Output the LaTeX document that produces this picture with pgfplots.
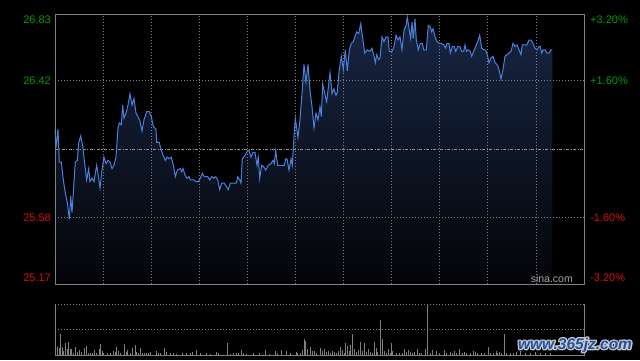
\documentclass[border=0pt]{standalone}
\usepackage{fontspec}
\setmainfont{Liberation Sans}
\usepackage{pgfplots}
\usepackage{pgfplotstable}
\pgfplotsset{compat=1.18}
\definecolor{upgreen}{RGB}{0,155,0}
\definecolor{downred}{RGB}{222,10,10}
\definecolor{gridgray}{RGB}{128,128,128}
\definecolor{linecol}{RGB}{74,128,220}
\definecolor{filltop}{RGB}{24,38,68}
\definecolor{fillbot}{RGB}{3,4,7}
\definecolor{wmblue}{RGB}{32,82,160}
\definecolor{wmhalo}{RGB}{200,200,206}

\pgfplotstableread{
x p
0 26.12
1 26.01
3 26.12
4.3 25.92
6.3 25.92
8.3 25.81
10.3 25.73
12.3 25.67
14.3 25.57
15.7 25.71
17 25.61
18.3 25.73
20.3 25.92
22.3 25.93
23.7 26.04
25.7 26.08
27.7 26.02
29.7 25.91
31.7 25.81
33.7 25.88
35 25.80
37 25.82
39 25.80
41.7 25.90
43 25.85
45 25.76
47 25.87
49 25.95
51 25.91
53 25.93
55 25.92
57 25.88
59 25.90
61 25.95
63 26.13
64.3 26.16
66.3 26.15
67.7 26.27
69 26.19
71 26.22
73 26.27
75 26.34
77 26.27
79 26.31
81 26.22
83 26.20
85 26.17
87 26.11
89 26.18
91.7 26.23
94.3 26.23
96.3 26.20
98.3 26.14
101 26.12
101.7 26.04
104.3 26.04
106.3 25.99
108.3 25.96
110.3 25.93
112.3 25.95
114.3 25.94
116.3 25.95
118.3 25.90
120.3 25.83
122.3 25.87
125.3 25.88
126.7 25.86
128 25.88
130 25.84
132 25.82
134 25.83
135.3 25.81
138.7 25.81
140.7 25.80
143.3 25.80
145.3 25.82
147.3 25.85
149.3 25.83
152.7 25.83
154.7 25.81
156.7 25.83
158.7 25.82
160.7 25.83
162.7 25.81
164.7 25.75
166.7 25.79
169.3 25.79
171.3 25.77
173.3 25.75
175.3 25.79
181.3 25.79
182.7 25.83
184.7 25.81
186 25.79
187.3 25.94
190 25.96
192.7 25.99
194 25.99
196 25.95
198 25.98
200 25.98
202 25.90
203.3 25.95
204.7 25.82
206.7 25.90
208.7 25.89
210.7 25.87
213.3 25.90
216 25.91
218 25.93
219.3 25.91
220.7 25.99
222.7 25.90
229.3 25.90
230.7 25.94
232 25.94
234 25.87
236 25.94
237.3 25.90
239 26.08
240.3 26.19
243 26.07
245 26.18
247 26.34
249 26.52
251 26.41
253 26.52
255 26.36
257 26.26
259 26.13
261 26.22
263 26.18
265 26.26
266.3 26.20
267.7 26.40
269.7 26.34
271.7 26.29
275 26.47
277 26.34
279 26.37
281 26.33
282.3 26.35
284.3 26.49
286.3 26.57
288.3 26.49
290.3 26.61
292.3 26.48
294.3 26.61
296.3 26.65
298.3 26.66
300.3 26.70
301.7 26.72
303.7 26.71
305.7 26.77
307.7 26.68
309.7 26.59
312.3 26.61
315 26.60
317 26.62
319 26.57
320.3 26.53
321.7 26.58
323.7 26.55
325 26.56
327 26.69
329 26.66
331 26.69
333 26.69
334.3 26.60
337 26.60
339 26.63
341 26.70
343 26.67
345 26.69
347 26.61
349 26.73
351 26.76
352.3 26.81
354.3 26.73
355.7 26.68
357 26.78
358.3 26.68
360 26.80
361.3 26.67
363.3 26.61
365.3 26.65
367.3 26.65
368.7 26.61
371.3 26.61
373.3 26.76
375.3 26.75
376.7 26.72
378 26.74
380 26.69
382 26.66
384 26.65
386 26.65
388.7 26.64
390.7 26.62
392 26.65
394 26.65
395.3 26.59
397.3 26.63
399.3 26.63
400.7 26.60
402.7 26.63
404.7 26.63
406.7 26.60
408.7 26.60
410 26.64
411.3 26.60
413.3 26.61
415.3 26.60
416.7 26.57
418.7 26.60
420.7 26.63
422.7 26.66
424.7 26.70
426.7 26.62
428.7 26.61
430.7 26.61
432.7 26.57
434 26.53
436 26.56
438 26.57
440 26.53
442 26.52
444 26.49
446 26.43
448 26.49
450 26.57
452 26.58
454 26.59
456 26.60
458 26.65
460 26.63
462 26.64
464 26.61
466 26.58
467.3 26.64
472 26.64
474 26.67
476 26.67
478 26.65
480 26.62
482 26.61
484 26.63
485.3 26.63
486.7 26.59
488 26.61
490 26.61
492 26.59
494 26.59
496 26.61
497.3 26.61
}\pricedata

\pgfplotstableread{
x v
0 57
2.3 25
4.3 20
5.3 63
7 25
8.3 13
10.3 37
12.3 17
13.3 40
15 17
16.3 17
18.3 7
20.3 23
22.3 10
24.3 15
26.3 9
29 20
31 27
33 7
35 5
37 7
39.3 15
41 5
44.3 17
45.3 33
47 11
48.3 7
52.3 5
55 5
58.3 11
60.3 9
61.3 23
63.3 11
65 5
69.3 33
71 9
72.3 15
75 5
77.7 21
80 30
81.7 10
83.3 7
85 20
87 7
89 5
91.7 5
93.7 5
95.7 9
101.7 11
103.7 7
105.7 5
109 20
111 9
115.7 5
118.3 5
121.7 3
127.7 5
131.7 5
135 7
137.7 9
141 15
145 5
151.7 5
155.7 3
161 9
163.7 7
172.3 37
175 3
178.3 5
181 5
183.7 7
186.3 15
188.3 5
191.7 3
198.3 5
204.3 7
210.3 15
214.3 3
220.3 11
222.3 5
226.3 15
231 11
235 5
241 9
242.3 7
245 5
247 15
249 47
250.3 43
252.3 17
255 23
257 11
259.7 11
261.7 5
265 20
267 11
269 17
271 9
273 11
275 7
277 13
279 9
281 7
283 11
285 25
287 15
289 7
290.3 35
292.3 27
294.3 13
295.7 29
297.3 63
299 17
301 9
303 15
305 39
307 13
309 35
311 9
313 19
315 9
317 7
319.3 39
321 20
322.3 9
325.3 105
327.3 47
329 13
331 7
333 17
335 7
336.3 35
337.7 13
341 7
344.3 5
347 5
349 17
351 9
353 15
355 9
357 7
359 9
362.3 19
364.3 5
366.3 7
370.3 17
372.3 152
375 7
377.7 15
381 11
384.3 7
389 15
391.7 7
395.7 9
397.7 7
399.7 11
401.7 7
404.3 19
407 5
409.7 9
411.7 7
415 5
418.3 11
420.3 9
422.3 7
426.3 7
429 5
433.7 23
435.7 5
438.3 7
441 11
442.3 5
444.3 9
446.3 7
449.3 63
451.7 7
455 5
458.3 7
461.7 9
465 11
470 7
475 5
480 9
485 7
490 5
495 7
}\voldata

\newcommand{\wm}{\fontsize{15.5}{15.5}\selectfont\bfseries\itshape www.365jz.com}

\begin{document}
\begin{tikzpicture}[x=1pt,y=1pt]
\path[use as bounding box] (0,0) rectangle (640,360);
\fill[black] (0,0) rectangle (640,360);

% ---------- price panel ----------
\begin{axis}[
  at={(55pt,76pt)}, anchor=south west,
  scale only axis, width=529pt, height=270pt,
  xmin=0, xmax=529, ymin=25.17, ymax=26.83,
  clip=false, axis on top,
  axis line style={gridgray, line width=0.8pt},
  xtick={48.09,96.18,144.27,192.36,240.45,288.55,336.64,384.73,432.82,480.91},
  ytick={25.58,26.42},
  xmajorticks=false, ymajorticks=false,
  xmajorgrids, ymajorgrids,
  major grid style={gridgray, line width=0.7pt, dash pattern=on 1pt off 2pt},
  font=\fontsize{11}{11}\selectfont,
]
\addplot[draw=none, top color=filltop, bottom color=fillbot]
  table[x=x,y=p] {\pricedata} |- (axis cs:0,25.17) -- cycle;
\draw[gray!85, line width=0.7pt, dash pattern=on 3pt off 1.5pt on 1pt off 1.5pt]
  (axis cs:0,26.00) -- (axis cs:529,26.00);
\addplot[linecol, line width=1pt, mark=none] table[x=x,y=p] {\pricedata};

% left labels
\node[anchor=east, inner sep=0pt, text=upgreen] at ([xshift=-4pt,yshift=-6.2pt]rel axis cs:0,1) {26.83};
\node[anchor=east, inner sep=0pt, text=upgreen] at ([xshift=-4pt]axis cs:0,26.42) {26.42};
\node[anchor=east, inner sep=0pt, text=downred] at ([xshift=-4pt]axis cs:0,25.58) {25.58};
\node[anchor=east, inner sep=0pt, text=downred] at ([xshift=-4pt,yshift=6.3pt]rel axis cs:0,0) {25.17};
% right labels
\node[anchor=west, inner sep=0pt, text=upgreen] at ([xshift=6pt,yshift=-6.2pt]rel axis cs:1,1) {+3.20\%};
\node[anchor=west, inner sep=0pt, text=upgreen] at ([xshift=6pt]axis cs:529,26.42) {+1.60\%};
\node[anchor=west, inner sep=0pt, text=downred] at ([xshift=6pt]axis cs:529,25.58) {-1.60\%};
\node[anchor=west, inner sep=0pt, text=downred] at ([xshift=6pt,yshift=6.3pt]rel axis cs:1,0) {-3.20\%};
% source
\node[anchor=east, inner sep=0pt, text={rgb,255:red,165;green,165;blue,165}, font=\fontsize{10.5}{10.5}\selectfont]
  at ([xshift=-11pt,yshift=5pt]rel axis cs:1,0) {sina.com};
\end{axis}

% ---------- volume panel ----------
\begin{axis}[
  at={(55pt,5pt)}, anchor=south west,
  scale only axis, width=529pt, height=51pt,
  xmin=0, xmax=529, ymin=0, ymax=152,
  clip=false,
  axis line style={draw=none},
  xtick=\empty, ytick={76,152},
  xmajorticks=false, ymajorticks=false,
  ymajorgrids,
  major grid style={gridgray, line width=0.7pt, dash pattern=on 1pt off 2pt},
]
\addplot[ycomb, gridgray, line width=0.8pt, mark=none] table[x=x,y=v] {\voldata};
\draw[gridgray, line width=0.8pt] (rel axis cs:0,1) -- (rel axis cs:0,0) -- (rel axis cs:1,0) -- (rel axis cs:1,1);
\end{axis}

% ---------- watermark: light halo (stroked) under blue text ----------
\node[inner sep=0pt] at (575,15) {\color{wmhalo}%
  \special{pdf:literal direct 0.784 0.784 0.808 RG 2.6 w 1 j 1 Tr}\wm\special{pdf:literal direct 0 Tr}};
\node[inner sep=0pt, text=wmblue] at (575,15) {\wm};
\end{tikzpicture}
\end{document}
